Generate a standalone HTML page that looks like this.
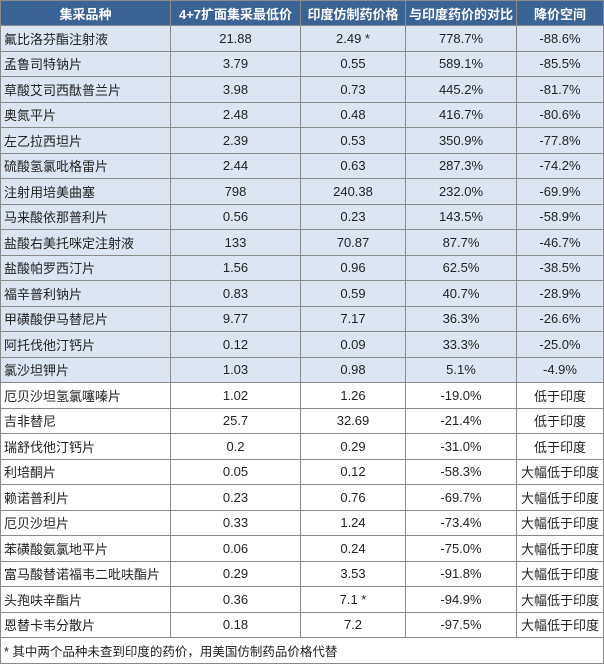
<!DOCTYPE html>
<html><head><meta charset="utf-8"><style>
body{margin:0;width:604px;height:665px;background:#fff;font-family:"Liberation Sans","Microsoft YaHei","Noto Sans CJK SC",sans-serif;font-size:13px;color:#222}
table{border-collapse:collapse;position:absolute;left:0;top:0;width:603px;table-layout:fixed}
td,th{border:1px solid #8a8a8a;height:24.5px;padding:0;text-align:center;white-space:nowrap;overflow:hidden}
th{background:#3b6496;color:#fff;font-weight:bold;font-size:13px;height:24px}
td:first-child{text-align:left;padding-left:3px}
tr.b td{background:#dce6f2}
.f td{text-align:left;height:25px;font-size:12.5px}
</style></head><body>
<table>
<colgroup><col style="width:170px"><col style="width:130px"><col style="width:105px"><col style="width:111px"><col style="width:87px"></colgroup>
<tr><th>集采品种</th><th>4+7扩面集采最低价</th><th>印度仿制药价格</th><th>与印度药价的对比</th><th>降价空间</th></tr>
<tr class="b"><td>氟比洛芬酯注射液</td><td>21.88</td><td>2.49 *</td><td>778.7%</td><td>-88.6%</td></tr>
<tr class="b"><td>孟鲁司特钠片</td><td>3.79</td><td>0.55</td><td>589.1%</td><td>-85.5%</td></tr>
<tr class="b"><td>草酸艾司西酞普兰片</td><td>3.98</td><td>0.73</td><td>445.2%</td><td>-81.7%</td></tr>
<tr class="b"><td>奥氮平片</td><td>2.48</td><td>0.48</td><td>416.7%</td><td>-80.6%</td></tr>
<tr class="b"><td>左乙拉西坦片</td><td>2.39</td><td>0.53</td><td>350.9%</td><td>-77.8%</td></tr>
<tr class="b"><td>硫酸氢氯吡格雷片</td><td>2.44</td><td>0.63</td><td>287.3%</td><td>-74.2%</td></tr>
<tr class="b"><td>注射用培美曲塞</td><td>798</td><td>240.38</td><td>232.0%</td><td>-69.9%</td></tr>
<tr class="b"><td>马来酸依那普利片</td><td>0.56</td><td>0.23</td><td>143.5%</td><td>-58.9%</td></tr>
<tr class="b"><td>盐酸右美托咪定注射液</td><td>133</td><td>70.87</td><td>87.7%</td><td>-46.7%</td></tr>
<tr class="b"><td>盐酸帕罗西汀片</td><td>1.56</td><td>0.96</td><td>62.5%</td><td>-38.5%</td></tr>
<tr class="b"><td>福辛普利钠片</td><td>0.83</td><td>0.59</td><td>40.7%</td><td>-28.9%</td></tr>
<tr class="b"><td>甲磺酸伊马替尼片</td><td>9.77</td><td>7.17</td><td>36.3%</td><td>-26.6%</td></tr>
<tr class="b"><td>阿托伐他汀钙片</td><td>0.12</td><td>0.09</td><td>33.3%</td><td>-25.0%</td></tr>
<tr class="b"><td>氯沙坦钾片</td><td>1.03</td><td>0.98</td><td>5.1%</td><td>-4.9%</td></tr>
<tr><td>厄贝沙坦氢氯噻嗪片</td><td>1.02</td><td>1.26</td><td>-19.0%</td><td>低于印度</td></tr>
<tr><td>吉非替尼</td><td>25.7</td><td>32.69</td><td>-21.4%</td><td>低于印度</td></tr>
<tr><td>瑞舒伐他汀钙片</td><td>0.2</td><td>0.29</td><td>-31.0%</td><td>低于印度</td></tr>
<tr><td>利培酮片</td><td>0.05</td><td>0.12</td><td>-58.3%</td><td>大幅低于印度</td></tr>
<tr><td>赖诺普利片</td><td>0.23</td><td>0.76</td><td>-69.7%</td><td>大幅低于印度</td></tr>
<tr><td>厄贝沙坦片</td><td>0.33</td><td>1.24</td><td>-73.4%</td><td>大幅低于印度</td></tr>
<tr><td>苯磺酸氨氯地平片</td><td>0.06</td><td>0.24</td><td>-75.0%</td><td>大幅低于印度</td></tr>
<tr><td>富马酸替诺福韦二吡呋酯片</td><td>0.29</td><td>3.53</td><td>-91.8%</td><td>大幅低于印度</td></tr>
<tr><td>头孢呋辛酯片</td><td>0.36</td><td>7.1 *</td><td>-94.9%</td><td>大幅低于印度</td></tr>
<tr><td>恩替卡韦分散片</td><td>0.18</td><td>7.2</td><td>-97.5%</td><td>大幅低于印度</td></tr>
<tr class="f"><td colspan="5">* 其中两个品种未查到印度的药价，用美国仿制药品价格代替</td></tr>
</table>
</body></html>
